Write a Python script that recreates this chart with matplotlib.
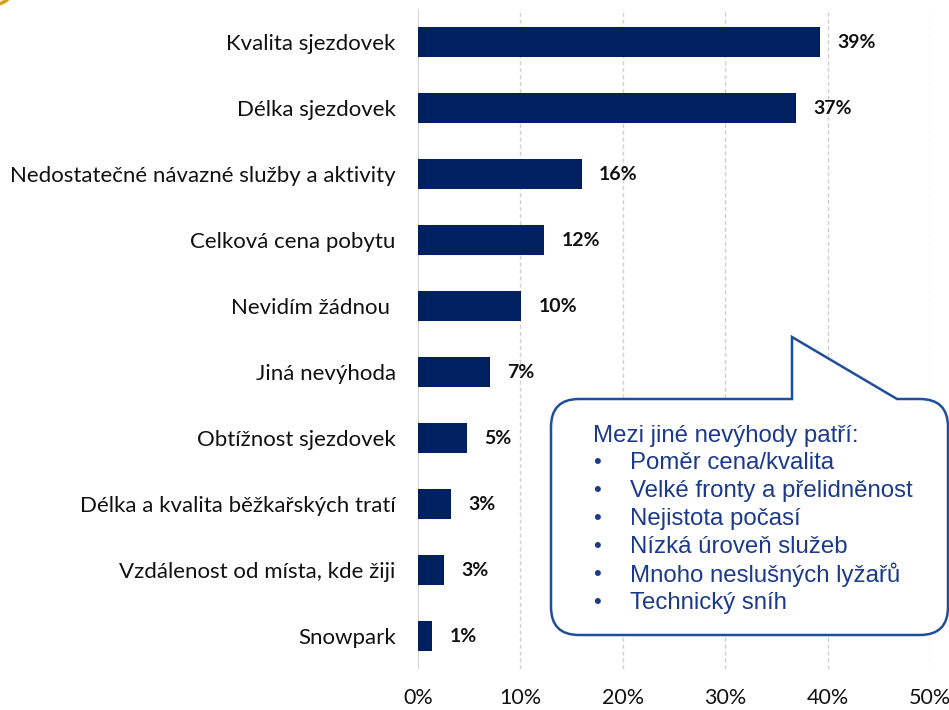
import matplotlib.pyplot as plt
from matplotlib.path import Path
from matplotlib.patches import PathPatch, Circle

categories = ["Kvalita sjezdovek", "Délka sjezdovek", "Nedostatečné návazné služby a aktivity",
              "Celková cena pobytu", "Nevidím žádnou ", "Jiná nevýhoda", "Obtížnost sjezdovek",
              "Délka a kvalita běžkařských tratí", "Vzdálenost od místa, kde žiji", "Snowpark"]
values = [39.3, 36.9, 16.0, 12.3, 10.1, 7.0, 4.8, 3.2, 2.5, 1.4]
labels = ["39%", "37%", "16%", "12%", "10%", "7%", "5%", "3%", "3%", "1%"]
xticks = [0, 10, 20, 30, 40, 50]
note_title = "Mezi jiné nevýhody patří:"
note_items = ["Poměr cena/kvalita", "Velké fronty a přelidněnost", "Nejistota počasí",
              "Nízká úroveň služeb", "Mnoho neslušných lyžařů", "Technický sníh"]

W, H = 949, 710
fig = plt.figure(figsize=(W / 100, H / 100), dpi=100)
ax = fig.add_axes([418 / W, 1 - 669 / H, (930 - 418) / W, 660 / H])

ypos = list(range(len(categories)))
ax.barh(ypos, values, height=0.46, color="#002060", zorder=3)
for y, v, lab in zip(ypos, values, labels):
    ax.text(v + 1.7, y, lab, va="center", ha="left", fontsize=14, fontweight="bold",
            family="Lato", color="#111111")

ax.set_xlim(0, 50)
ax.set_ylim(len(categories) - 0.5, -0.5)
ax.set_yticks(ypos)
ax.set_yticklabels(categories, family="Lato", fontsize=16, color="#111111")
ax.set_xticks(xticks)
ax.set_xticklabels([f"{t}%" for t in xticks], family="Lato", fontsize=15.5, color="#111111")
ax.tick_params(length=0, axis="y", pad=16)
ax.tick_params(length=0, axis="x", pad=14)
for s in ax.spines.values():
    s.set_visible(False)
ax.axvline(0, color="#c8c8c8", lw=1.2, zorder=2)
for t in xticks[1:]:
    ax.axvline(t, color="#d0d0d0", lw=1, ls=(0, (3, 2)), zorder=1)

# callout bubble, pixel coords -> figure fraction
def f(x, y):
    return (x / W, 1 - y / H)

L, R, T, B, r = 551, 948, 399, 635, 28
verts = [f(L + r, T), f(792, T), f(792, 337), f(897, T), f(R - r, T),
         f(R, T), f(R, T + r), f(R, B - r), f(R, B), f(R - r, B),
         f(L + r, B), f(L, B), f(L, B - r), f(L, T + r), f(L, T), f(L + r, T), f(L + r, T)]
codes = [Path.MOVETO, Path.LINETO, Path.LINETO, Path.LINETO, Path.LINETO,
         Path.CURVE3, Path.CURVE3, Path.LINETO, Path.CURVE3, Path.CURVE3,
         Path.LINETO, Path.CURVE3, Path.CURVE3, Path.LINETO, Path.CURVE3, Path.CURVE3,
         Path.CLOSEPOLY]
bubble = PathPatch(Path(verts, codes), transform=fig.transFigure, facecolor="white",
                   edgecolor="#1f4e9a", lw=1.8, zorder=10)
fig.patches.append(bubble)

txtc = "#1b3a8c"
fig.text(*f(593, 436), note_title, fontsize=17.3, family="Liberation Sans", color=txtc,
         va="center", zorder=11)
for i, item in enumerate(note_items):
    yy = 463 + i * 28
    fig.text(*f(597, yy), "•", fontsize=16, family="Liberation Sans", color=txtc,
             va="center", ha="center", zorder=11)
    fig.text(*f(630, yy), item, fontsize=17.3, family="Liberation Sans", color=txtc,
             va="center", zorder=11)

# partial badge in the corner
fig.patches.append(Circle(f(-8, -10), 20 / W, transform=fig.transFigure,
                          facecolor="#fdf3d8", edgecolor="#d4a20e", lw=2.5))

fig.savefig("out.png", dpi=100)
